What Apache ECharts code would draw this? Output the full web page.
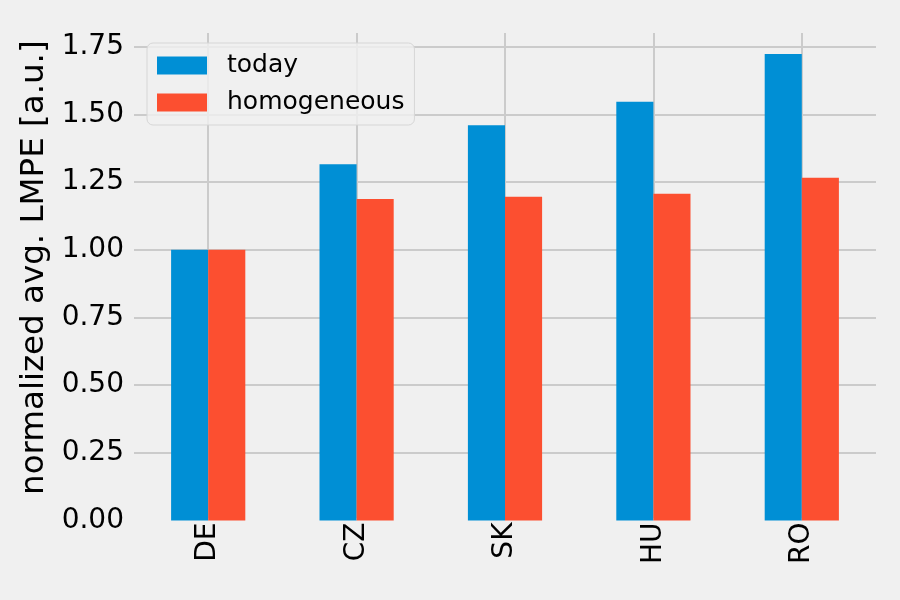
<!DOCTYPE html>
<html>
<head>
<meta charset="utf-8">
<script src="https://cdn.jsdelivr.net/npm/echarts@6/dist/echarts.min.js"></script>
<style>
html,body{margin:0;padding:0;background:#f0f0f0;}
#c{width:900px;height:600px;}
</style>
</head>
<body>
<div id="c"></div>
<script>
const categories = ['DE', 'CZ', 'SK', 'HU', 'RO'];
const today = [1.00, 1.316, 1.460, 1.547, 1.723];
const homogeneous = [1.00, 1.188, 1.196, 1.207, 1.266];
const seriesNames = ['today', 'homogeneous'];
const yTicks = [0, 0.25, 0.5, 0.75, 1.0, 1.25, 1.5, 1.75];
const yLabel = 'normalized avg. LMPE [a.u.]';

const FONT = 'DejaVu Sans';
const GRID = '#cbcbcb';
const chart = echarts.init(document.getElementById('c'), null, {renderer: 'canvas'});
chart.setOption({
  backgroundColor: '#f0f0f0',
  animation: false,
  textStyle: {fontFamily: FONT},
  grid: [
    {left: 134, right: 24, top: 33, bottom: 82, containLabel: false},
    {left: 134, right: 24, top: 46.8, bottom: 79.5, containLabel: false}
  ],
  legend: {
    orient: 'vertical',
    left: 147, top: 43,
    padding: [10, 10, 10, 10],
    itemWidth: 50, itemHeight: 18, itemGap: 12,
    icon: 'rect',
    backgroundColor: 'rgba(240,240,240,0.8)',
    borderColor: '#d6d6d6', borderWidth: 1, borderRadius: 6,
    textStyle: {fontFamily: FONT, fontSize: 25, color: '#000', padding: [0, 0, 0, 15]},
    data: seriesNames
  },
  xAxis: [
    {
      gridIndex: 0,
      type: 'category',
      data: categories,
      axisLine: {show: false},
      axisTick: {show: false, alignWithLabel: true},
      axisLabel: {show: false},
      splitLine: {show: true, alignWithLabel: true, lineStyle: {color: GRID, width: 2}}
    },
    {
      gridIndex: 1,
      type: 'category',
      data: categories,
      z: 1,
      axisLine: {show: true, onZero: true, lineStyle: {color: '#f0f0f0', width: 3}},
      axisTick: {show: false},
      splitLine: {show: false},
      axisLabel: {rotate: 90, margin: 2, fontFamily: FONT, fontSize: 28, color: '#000'}
    }
  ],
  yAxis: [
    {
      gridIndex: 0,
      type: 'value',
      min: 0, max: 1.8,
      show: false,
      splitLine: {show: false}
    },
    {
      gridIndex: 1,
      type: 'value',
      min: 0, max: 1.75, interval: 0.25,
      name: yLabel,
      nameLocation: 'middle',
      nameGap: 82,
      nameTextStyle: {fontFamily: FONT, fontSize: 32.5, color: '#000', padding: [0, 0, 0, 32]},
      axisLine: {show: false},
      axisTick: {show: false},
      splitLine: {show: true, lineStyle: {color: GRID, width: 2}},
      axisLabel: {
        margin: 10, fontFamily: FONT, fontSize: 28, color: '#000',
        formatter: v => (yTicks.some(t => Math.abs(t - v) < 1e-9) ? v.toFixed(2) : '')
      }
    }
  ],
  series: [
    {name: seriesNames[0], type: 'bar', xAxisIndex: 1, yAxisIndex: 1, data: today,
     itemStyle: {color: '#008fd5'}, barGap: '0%', barCategoryGap: '50%', z: 2},
    {name: seriesNames[1], type: 'bar', xAxisIndex: 1, yAxisIndex: 1, data: homogeneous,
     itemStyle: {color: '#fc4f30'}, barGap: '0%', barCategoryGap: '50%', z: 2}
  ]
});
</script>
</body>
</html>
